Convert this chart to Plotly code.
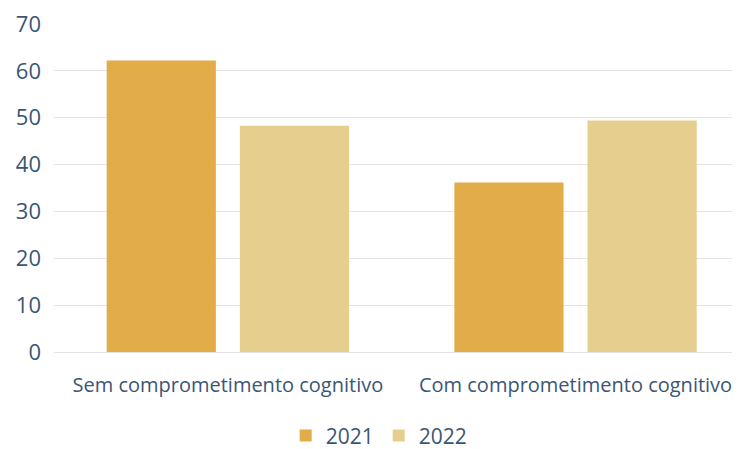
import plotly.graph_objects as go

categories = ["Sem comprometimento cognitivo", "Com comprometimento cognitivo"]
series_names = ["2021", "2022"]
values_2021 = [62.2, 36.2]
values_2022 = [48.3, 49.4]
y_ticks = [0, 10, 20, 30, 40, 50, 60, 70]

colors = {"2021": "#E2AC48", "2022": "#E6CF8E"}
text_color = "#3B5675"
font_family = "Open Sans, Noto Sans, sans-serif"

fig = go.Figure()
for name, vals in zip(series_names, [values_2021, values_2022]):
    fig.add_trace(go.Bar(
        x=categories, y=vals, name=name,
        marker=dict(color=colors[name], line=dict(width=0)),
    ))

# page body has an 8px default margin, so the figure is sized to fit the 740x449 view
fig.update_layout(
    width=732, height=441,
    margin=dict(l=46, r=0, t=16, b=97, autoexpand=False),
    paper_bgcolor="white", plot_bgcolor="white",
    barmode="group", bargap=0.234, bargroupgap=0.18,
    font=dict(family=font_family, color=text_color),
    showlegend=True,
    legend=dict(orientation="h", x=0.474, xanchor="center",
                yref="container", y=0.03, yanchor="middle",
                font=dict(size=21, color=text_color), itemwidth=30,
                bgcolor="rgba(0,0,0,0)"),
)
fig.update_xaxes(
    range=[-0.5, 1.473],
    tickfont=dict(size=20, color=text_color),
    ticks="outside", ticklen=15, tickcolor="rgba(0,0,0,0)",
    showline=False, showgrid=False, automargin=False,
)
fig.update_yaxes(
    range=[0, 70], tickvals=y_ticks,
    tickfont=dict(size=22, color=text_color),
    ticklabeloverflow="allow", ticklabelstandoff=12,
    showgrid=True, gridcolor="#E4E4E4", gridwidth=1,
    zeroline=True, zerolinecolor="#E4E4E4", zerolinewidth=1,
    ticks="", automargin=False,
)

fig.write_html("out.html")
